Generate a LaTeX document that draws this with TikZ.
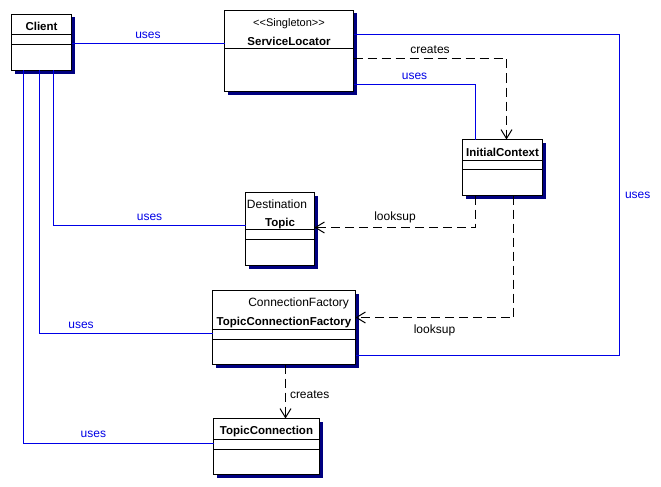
\documentclass[tikz,border=0pt]{standalone}
\usepackage{fontspec}
\setmainfont{Liberation Sans}
\usetikzlibrary{arrows.meta,shadows}

\definecolor{umlblue}{RGB}{0,0,230}
\definecolor{umlshadow}{RGB}{0,0,128}

\tikzset{
  classbox/.style={draw, fill=white, inner sep=0pt, outer sep=0pt, anchor=north west,
    drop shadow={shadow xshift=3pt, shadow yshift=-3pt, fill=umlshadow, opacity=1}},
  cname/.style={font=\fontsize{11.5}{13}\selectfont\bfseries, inner sep=0pt},
  stype/.style={font=\fontsize{12}{14}\selectfont, inner sep=0pt},
  uses/.style={color=umlblue},
  useslbl/.style={font=\fontsize{12}{14}\selectfont, inner sep=1pt},
  dep/.style={dash pattern=on 9pt off 5pt, -{Straight Barb[length=9pt,width=11pt]}},
  deplbl/.style={font=\fontsize{12}{14}\selectfont, inner sep=1pt}
}

\begin{document}
\begin{tikzpicture}[x=1pt, y=-1pt, line width=1pt]
        \useasboundingbox (0,0) rectangle (661,487);

        % classes
        \node[classbox, minimum width=60, minimum height=56] (client) at (11.5,14.5) {};
        \node[classbox, minimum width=129, minimum height=81] (sl) at (224.5,10.5) {};
        \node[classbox, minimum width=80, minimum height=56] (ic) at (462.5,139.5) {};
        \node[classbox, minimum width=69, minimum height=73] (topic) at (245.5,192.5) {};
        \node[classbox, minimum width=143, minimum height=74] (tcf) at (212.5,290.5) {};
        \node[classbox, minimum width=106, minimum height=56] (tc) at (213.5,418.5) {};

        % compartments
        \foreach \c/\a/\b in {client/20/30, ic/21/30, topic/37/47, tcf/39/49, tc/21/31} {
            \draw ([yshift=-\a]\c.north west) -- ([yshift=-\a]\c.north east);
            \draw ([yshift=-\b]\c.north west) -- ([yshift=-\b]\c.north east);
        }
        \draw ([yshift=-38]sl.north west) -- ([yshift=-38]sl.north east);

        % names
        \node[cname] (clientN) at ([yshift=-12]client.north) {Client};
        \node[stype, font=\fontsize{11}{12}\selectfont] (slS) at ([yshift=-13]sl.north)
            {\textless\kern0pt\textless Singleton\textgreater\kern0pt\textgreater};
        \node[cname] (slN) at ([yshift=-31]sl.north) {ServiceLocator};
        \node[cname] (icN) at ([yshift=-13]ic.north) {InitialContext};
        \node[stype, anchor=east] (topicS) at ([xshift=-7,yshift=-12]topic.north east) {Destination};
        \node[cname] (topicN) at ([yshift=-31]topic.north) {Topic};
        \node[stype, anchor=east] (tcfS) at ([xshift=-6,yshift=-13]tcf.north east) {ConnectionFactory};
        \node[cname] (tcfN) at ([yshift=-32]tcf.north) {TopicConnectionFactory};
        \node[cname] (tcN) at ([yshift=-13]tc.north) {TopicConnection};

        % uses
        \coordinate (clientR) at ([yshift=-29]client.north east);
        \draw[uses] (clientR) -- (clientR -| sl.west)
            node[useslbl, midway, above=3.5pt] (u1) {uses};
        \draw[uses] ([yshift=-24]sl.north east) -- ++(266,0) |- ([yshift=9]tcf.south east)
            node[useslbl, pos=.25, right=4pt] (u2) {uses};
        \draw[uses] ([yshift=7]sl.south east) -| ([xshift=13]ic.north west)
            node[useslbl, pos=.25, above=3pt] (u3) {uses};
        \draw[uses] ([xshift=-18]client.south east) |- ([yshift=-33]topic.north west)
            node[useslbl, pos=.75, above=3.5pt] (u4) {uses};
        \draw[uses] ([xshift=28]client.south west) |- ([yshift=-43]tcf.north west)
            node[useslbl, pos=.62, above=3.5pt] (u5) {uses};
        \draw[uses] ([xshift=12]client.south west) |- ([yshift=-25]tc.north west)
            node[useslbl, pos=.684, above=4pt] (u6) {uses};

        % creates / looksup
        \draw[dep] ([yshift=-48]sl.north east) -| ([xshift=44]ic.north west)
            node[deplbl, pos=.25, above=3pt] (c1) {creates};
        \draw[dep] ([xshift=13]ic.south west) |- ([yshift=-35]topic.north east)
            node[deplbl, pos=.75, above=3pt] (l1) {looksup};
        \draw[dep] ([xshift=51]ic.south west) |- ([yshift=-27]tcf.north east)
            node[deplbl, pos=.75, below=6pt] (l2) {looksup};
        \coordinate (tcfB) at ([xshift=73]tcf.south west);
        \draw[dep] (tcfB) -- (tcfB |- tc.north)
            node[deplbl, pos=.55, right=3pt] (c2) {creates};
    \end{tikzpicture}
\end{document}
